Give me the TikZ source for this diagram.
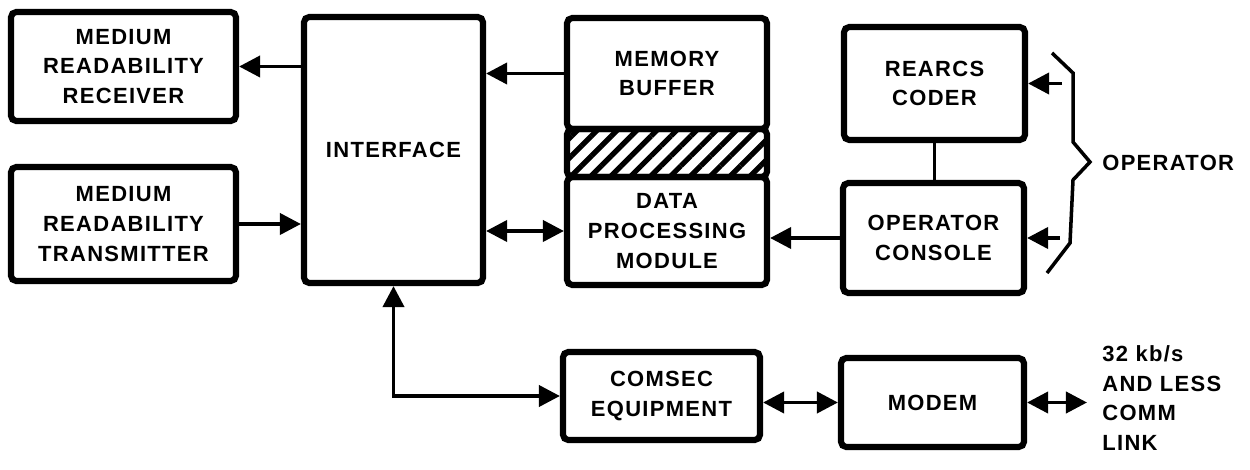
\documentclass[tikz,border=0pt]{standalone}
\usepackage{fontspec}
\setmainfont{Liberation Sans}[LetterSpace=6]
\usetikzlibrary{arrows.meta}
\usetikzlibrary{patterns.meta}

\begin{document}
\begin{tikzpicture}[
  font=\fontsize{12.5}{17}\selectfont\bfseries,
  box/.style={draw, line width=3.5pt, rounded corners=3pt, align=center, inner sep=0pt},
  wire/.style={line width=2.2pt},
  arr/.style={-{Triangle[length=12pt,width=12pt]}},
  darr/.style={{Triangle[length=12pt,width=12pt]}-{Triangle[length=12pt,width=12pt]}}]
\useasboundingbox (0,0) rectangle (25,9.38);

\node[box, minimum width=4.5cm, minimum height=2.18cm] (mr-rcv) at (2.47,8.05) {MEDIUM\\READABILITY\\RECEIVER};
\node[box, minimum width=4.5cm, minimum height=2.28cm] (mr-xmt) at (2.47,4.90) {MEDIUM\\READABILITY\\TRANSMITTER};
\node[box, minimum width=3.58cm, minimum height=5.32cm] (iface) at (7.87,6.38) {INTERFACE};
\node[box, minimum width=4cm, minimum height=2.22cm] (mem-buf) at (13.34,7.91) {MEMORY\\BUFFER};
\node[box, minimum width=4cm, minimum height=0.96cm,
      pattern={Lines[angle=45,distance=8pt,line width=3pt]}] (hatch) at (13.34,6.32) {};
\node[box, minimum width=4cm, minimum height=2.16cm] (dp-mod) at (13.34,4.76) {DATA\\PROCESSING\\MODULE};
\node[box, minimum width=3.62cm, minimum height=2.26cm] (rc-coder) at (18.69,7.71) {REARCS\\CODER};
\node[box, minimum width=3.62cm, minimum height=2.2cm] (op-console) at (18.67,4.62) {OPERATOR\\CONSOLE};
\node[box, minimum width=3.94cm, minimum height=1.76cm] (comsec) at (13.23,1.46) {COMSEC\\EQUIPMENT};
\node[box, minimum width=3.66cm, minimum height=1.78cm] (modem) at (18.65,1.33) {MODEM};
\node[anchor=west, inner sep=0pt] (operator) at (22.04,6.12) {OPERATOR};
\node[anchor=west, align=left, inner sep=0pt] (comm-link) at (22.04,1.42) {32 kb/s\\AND LESS\\COMM\\LINK};

\coordinate (op-top) at (21.24,7.71);
\coordinate (op-bot) at (21.20,4.62);
\coordinate (link-end) at (21.74,1.33);

\draw[wire, arr] (iface.west |- mr-rcv.east) -- (mr-rcv.east);
\draw[wire, arr] (mem-buf.west) -- (mem-buf.west -| iface.east);
\draw[wire, arr] (mr-xmt.east) -- (mr-xmt.east -| iface.west);
\draw[wire, darr] (dp-mod.west -| iface.east) -- (dp-mod.west);
\draw[wire, arr] (op-console.west) -- (op-console.west -| dp-mod.east);
\draw[wire] (rc-coder.south) -- (rc-coder.south |- op-console.north);
\draw[wire, darr]
     (iface.south)
  |- (comsec.west);
\draw[wire, darr] (modem.west -| comsec.east) -- (modem.west);
\draw[wire, darr] (modem.east) -- (link-end);
\draw[wire, arr] (op-top) -- (rc-coder.east);
\draw[wire, arr] (op-bot) -- (op-console.east);
\draw[line width=2pt]
     (21.04,8.32)
  -- (21.46,7.92)
  -- (21.46,6.54)
  -- (21.80,6.14)
  -- (21.46,5.78)
  -- (21.40,4.52)
  -- (20.94,3.92);
\end{tikzpicture}
\end{document}
